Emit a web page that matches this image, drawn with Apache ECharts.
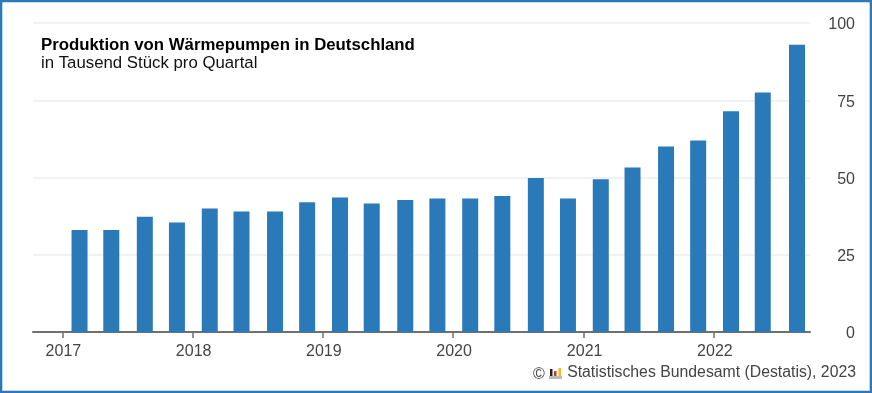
<!DOCTYPE html>
<html><head><meta charset="utf-8">
<style>html,body{margin:0;padding:0;background:#fff}#c{width:872px;height:393px}</style>
<script src="https://cdn.jsdelivr.net/npm/echarts@6/dist/echarts.min.js"></script>
</head><body><div id="c"></div>
<script>
const quarters = ['2017-02-18','2017-05-18','2017-08-20','2017-11-18','2018-02-18','2018-05-18','2018-08-20','2018-11-18','2019-02-18','2019-05-18','2019-08-20','2019-11-18','2020-02-18','2020-05-18','2020-08-20','2020-11-18','2021-02-18','2021-05-18','2021-08-20','2021-11-18','2022-02-18','2022-05-18','2022-08-22'];
const production = [33,33,37.3,35.4,40,39,39,42,43.5,41.6,42.7,43.2,43.2,44,49.8,43.2,49.4,53.2,60,62,71.4,77.5,93];
const titleText = 'Produktion von Wärmepumpen in Deutschland';
const subtitleText = 'in Tausend Stück pro Quartal';
const sourceText = 'Statistisches Bundesamt (Destatis), 2023';
const font = '"Liberation Sans", Arial, sans-serif';
const chart = echarts.init(document.getElementById('c'), null, {renderer:'canvas', useUTC:true});
chart.setOption({
  animation:false,
  useUTC:true,
  backgroundColor:'#fff',
  grid:{left:33,right:62,top:23,bottom:61,containLabel:false},
  xAxis:{type:'time',min:'2016-11-02',max:'2022-09-05',splitNumber:6,
    axisLine:{show:true,lineStyle:{color:'#707070',width:2}},
    axisTick:{show:true,length:6,lineStyle:{color:'#707070',width:1.5}},
    minorTick:{show:false},
    splitLine:{show:false},
    axisLabel:{formatter:'{yyyy}',color:'#444',fontFamily:font,fontSize:16,margin:12,showMinLabel:false,showMaxLabel:false,hideOverlap:false,padding:[0,0,0,2]}},
  yAxis:{type:'value',position:'right',min:0,max:100,interval:25,
    axisLine:{show:false},axisTick:{show:false},
    splitLine:{lineStyle:{color:'#eeeeee',width:1.5}},
    axisLabel:{color:'#444',fontFamily:font,fontSize:16,align:'right',verticalAlign:'top',margin:45,padding:[-6,0,0,0]}},
  series:[{type:'bar',barWidth:16,data:quarters.map((d,i)=>[d,production[i]]),
    itemStyle:{color:'#2a79b9'}}],
  graphic:[
    {type:'rect',silent:true,shape:{x:1,y:1,width:870,height:391},style:{fill:'none',stroke:'#2a79b9',lineWidth:2.6}},
    {type:'text',left:41,top:37,style:{text:titleText,font:'bold 16.8px '+font,fill:'#000'}},
    {type:'text',left:41,top:55,style:{text:subtitleText,font:'16.8px '+font,fill:'#111'}},
    {type:'text',left:533,top:367,style:{text:'©',font:'16px '+font,fill:'#444'}},
    {type:'rect',silent:true,shape:{x:549,y:376,width:13,height:3},style:{fill:'#bbb'}},
    {type:'rect',silent:true,shape:{x:550,y:369,width:2.5,height:7},style:{fill:'#222'}},
    {type:'rect',silent:true,shape:{x:554,y:371,width:2.5,height:5},style:{fill:'#c33'}},
    {type:'rect',silent:true,shape:{x:558.5,y:368,width:2.5,height:8},style:{fill:'#eebb22'}},
    {type:'text',right:16,top:365,style:{text:sourceText,font:'15.8px '+font,fill:'#444'}}
  ]
});
</script></body></html>
